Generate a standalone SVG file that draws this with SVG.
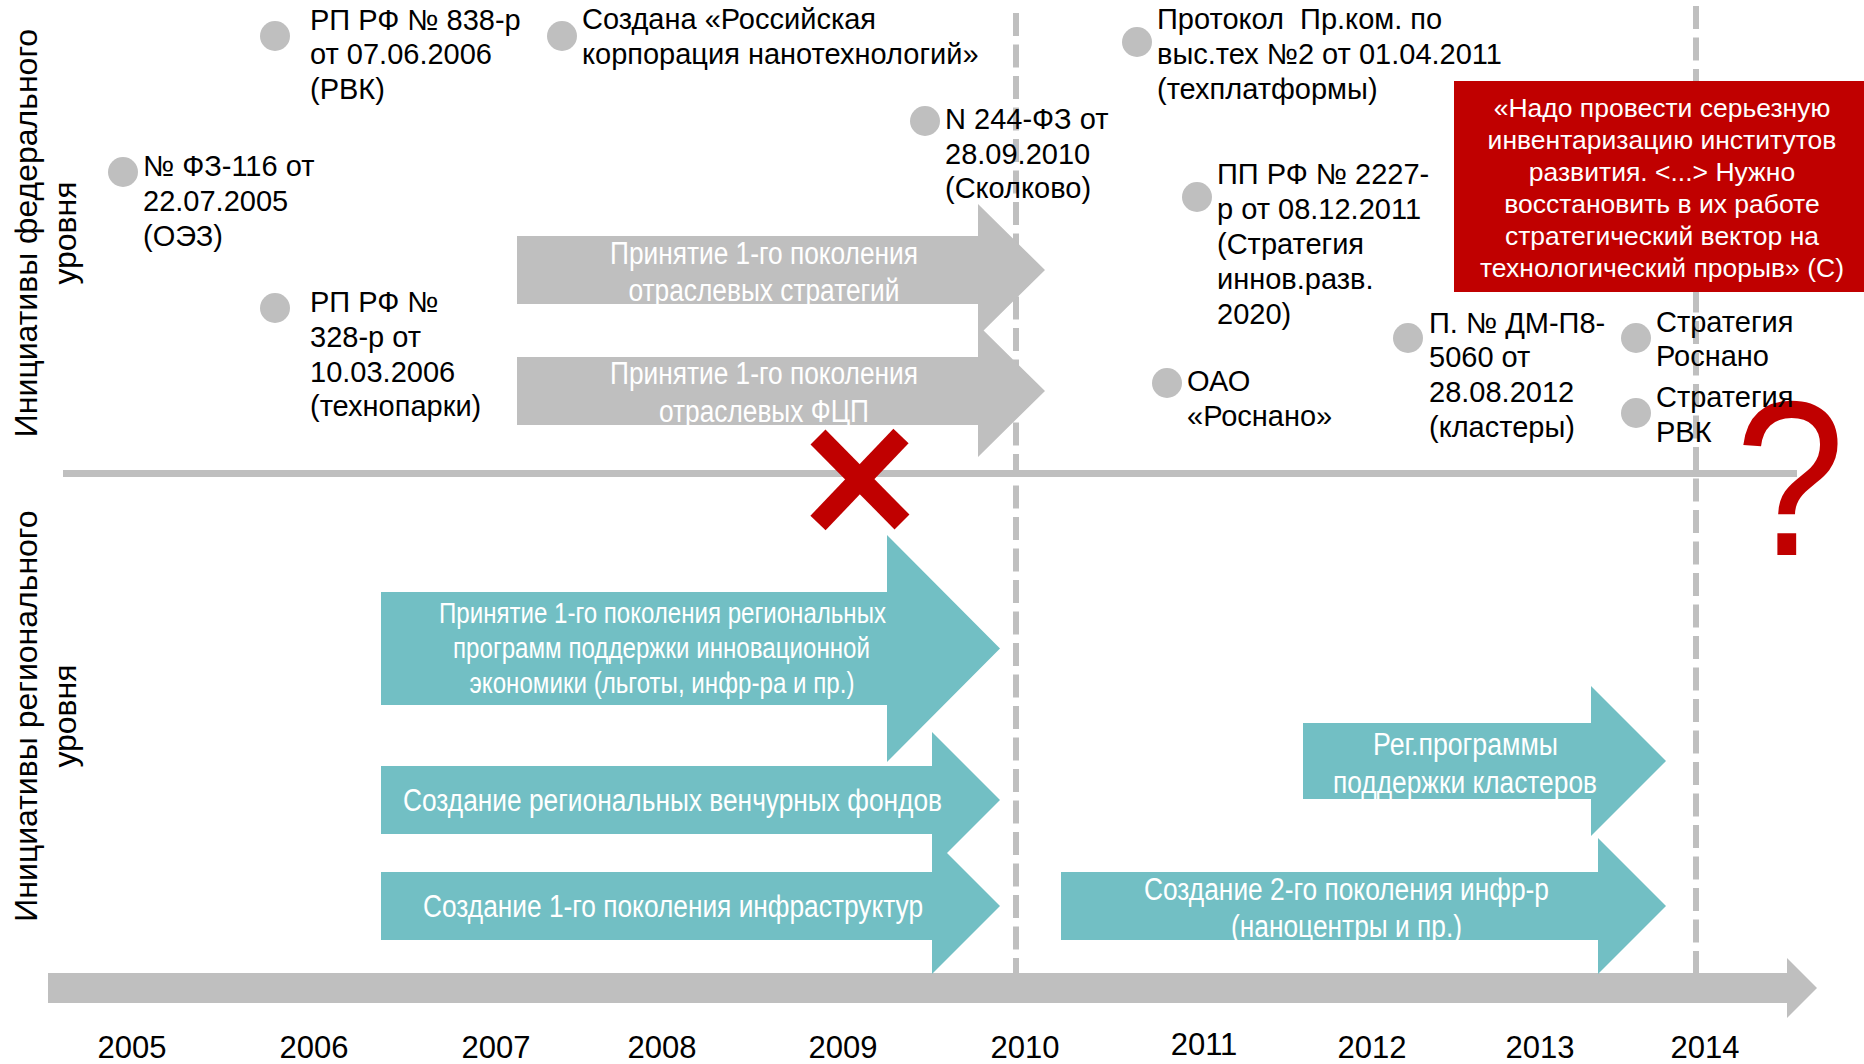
<svg xmlns="http://www.w3.org/2000/svg" width="1864" height="1064" viewBox="0 0 1864 1064">
<style>
.t{font-family:'Liberation Sans',Arial,sans-serif;font-size:29px;fill:#000}
.ax{font-family:'Liberation Sans',Arial,sans-serif;font-size:32px;fill:#000;text-anchor:middle}
.yr{font-family:'Liberation Sans',Arial,sans-serif;font-size:31px;fill:#000;text-anchor:middle}
.w{font-family:'Liberation Sans',Arial,sans-serif;font-size:31px;fill:#fff;text-anchor:middle}
.w29{font-size:29px}
.q{font-family:'Liberation Sans',Arial,sans-serif;font-size:26.5px;fill:#fff;text-anchor:middle}
.dot{fill:#bfbfbf}
.gray{fill:#bfbfbf}
.teal{fill:#72bfc4}
.dash{stroke:#bfbfbf;stroke-width:6;stroke-dasharray:23 8.5;fill:none}
.red{fill:#c00000}
</style>
<rect width="1864" height="1064" fill="#fff"/>

<g id="connectors">
  <line class="dash" x1="1016" y1="13" x2="1016" y2="973"/>
  <line class="dash" x1="1696" y1="6" x2="1696" y2="973"/>
  <line x1="63" y1="473.5" x2="1797" y2="473.5" stroke="#bfbfbf" stroke-width="7"/>
  <polygon id="timeline" class="gray" points="48,973 1787,973 1787,958 1817,988 1787,1018 1787,1003 48,1003"/>
</g>

<g id="axis-labels">
  <text class="ax" transform="translate(37,233) rotate(-90)">Инициативы федерального</text>
  <text class="ax" transform="translate(76,233) rotate(-90)">уровня</text>
  <text class="ax" transform="translate(37,716) rotate(-90)">Инициативы регионального</text>
  <text class="ax" transform="translate(76,716) rotate(-90)">уровня</text>
</g>

<g id="years">
  <text class="yr" x="132" y="1058">2005</text>
  <text class="yr" x="314" y="1058">2006</text>
  <text class="yr" x="496" y="1058">2007</text>
  <text class="yr" x="662" y="1058">2008</text>
  <text class="yr" x="843" y="1058">2009</text>
  <text class="yr" x="1025" y="1058">2010</text>
  <text class="yr" x="1204" y="1055">2011</text>
  <text class="yr" x="1372" y="1058">2012</text>
  <text class="yr" x="1540" y="1058">2013</text>
  <text class="yr" x="1705" y="1058">2014</text>
</g>

<g id="arrow-strategies">
  <polygon class="gray" points="517,236 978,236 978,204 1045,270 978,336 978,304 517,304"/>
  <text class="w"><tspan x="764" y="263.5" textLength="308" lengthAdjust="spacingAndGlyphs">Принятие 1-го поколения</tspan><tspan x="764" y="301" textLength="271" lengthAdjust="spacingAndGlyphs">отраслевых стратегий</tspan></text>
</g>
<g id="arrow-fcp">
  <polygon class="gray" points="517,357 978,357 978,325 1045,391 978,457 978,425 517,425"/>
  <text class="w"><tspan x="764" y="383.5" textLength="308" lengthAdjust="spacingAndGlyphs">Принятие 1-го поколения</tspan><tspan x="764" y="421.5" textLength="210" lengthAdjust="spacingAndGlyphs">отраслевых ФЦП</tspan></text>
</g>

<g id="arrow-regional-programs">
  <polygon class="teal" points="381,592 887,592 887,535 1000,648.5 887,762 887,705 381,705"/>
  <text class="w w29"><tspan x="662.5" y="623" textLength="447" lengthAdjust="spacingAndGlyphs">Принятие 1-го поколения региональных</tspan><tspan x="661.5" y="658" textLength="417" lengthAdjust="spacingAndGlyphs">программ поддержки инновационной</tspan><tspan x="662" y="693" textLength="385" lengthAdjust="spacingAndGlyphs">экономики (льготы, инфр-ра и пр.)</tspan></text>
</g>
<g id="arrow-venture">
  <polygon class="teal" points="381,766 932,766 932,732 1000,800 932,868 932,834 381,834"/>
  <text class="w" x="672.5" y="811" textLength="539" lengthAdjust="spacingAndGlyphs">Создание региональных венчурных фондов</text>
</g>
<g id="arrow-infra1">
  <polygon class="teal" points="381,872 932,872 932,838 1000,906 932,974 932,940 381,940"/>
  <text class="w" x="673" y="917" textLength="500" lengthAdjust="spacingAndGlyphs">Создание 1-го поколения инфраструктур</text>
</g>
<g id="arrow-clusters">
  <polygon class="teal" points="1303,723 1591,723 1591,686 1666,761 1591,836 1591,799 1303,799"/>
  <text class="w"><tspan x="1465.5" y="755" textLength="185" lengthAdjust="spacingAndGlyphs">Рег.программы</tspan><tspan x="1465" y="792.5" textLength="264" lengthAdjust="spacingAndGlyphs">поддержки кластеров</tspan></text>
</g>
<g id="arrow-infra2">
  <polygon class="teal" points="1061,872 1598,872 1598,838 1666,906 1598,974 1598,940 1061,940"/>
  <text class="w"><tspan x="1346.5" y="900" textLength="405" lengthAdjust="spacingAndGlyphs">Создание 2-го поколения инфр-р</tspan><tspan x="1346.5" y="937" textLength="231" lengthAdjust="spacingAndGlyphs">(наноцентры и пр.)</tspan></text>
</g>

<g id="cross">
  <line x1="818" y1="437" x2="902" y2="522" stroke="#c00000" stroke-width="21"/>
  <line x1="901" y1="436" x2="818" y2="523" stroke="#c00000" stroke-width="21"/>
</g>

<g id="question">
  <text transform="translate(1790,555) scale(0.93,1.04)" font-family="'Liberation Sans',Arial,sans-serif" font-size="212" fill="#c00000" text-anchor="middle">?</text>
</g>

<g id="quote">
  <rect class="red" x="1454" y="81" width="410" height="211"/>
  <text class="q"><tspan x="1662" y="117">«Надо провести серьезную</tspan><tspan x="1662" y="149">инвентаризацию институтов</tspan><tspan x="1662" y="181">развития. &lt;...&gt; Нужно</tspan><tspan x="1662" y="212.5">восстановить в их работе</tspan><tspan x="1662" y="244.5">стратегический вектор на</tspan><tspan x="1662" y="276.5">технологический прорыв» (С)</tspan></text>
</g>

<g id="ev-fz116">
  <circle class="dot" cx="123" cy="172" r="15"/>
  <text class="t"><tspan x="143" y="175.5">№ ФЗ-116 от</tspan><tspan x="143" y="210.5">22.07.2005</tspan><tspan x="143" y="245.5">(ОЭЗ)</tspan></text>
</g>
<g id="ev-rp838">
  <circle class="dot" cx="275" cy="36" r="15"/>
  <text class="t"><tspan x="310" y="29.5">РП РФ № 838-р</tspan><tspan x="310" y="64">от 07.06.2006</tspan><tspan x="310" y="98.5">(РВК)</tspan></text>
</g>
<g id="ev-rp328">
  <circle class="dot" cx="275" cy="308" r="15"/>
  <text class="t"><tspan x="310" y="311.5">РП РФ №</tspan><tspan x="310" y="346.5">328-р от</tspan><tspan x="310" y="381.5">10.03.2006</tspan><tspan x="310" y="416">(технопарки)</tspan></text>
</g>
<g id="ev-rusnano-corp">
  <circle class="dot" cx="562" cy="36" r="15"/>
  <text class="t"><tspan x="582" y="29">Создана «Российская</tspan><tspan x="582" y="64">корпорация нанотехнологий»</tspan></text>
</g>
<g id="ev-fz244">
  <circle class="dot" cx="925" cy="121" r="15"/>
  <text class="t"><tspan x="945" y="128.5">N 244-ФЗ от</tspan><tspan x="945" y="163.5">28.09.2010</tspan><tspan x="945" y="198">(Сколково)</tspan></text>
</g>
<g id="ev-protocol">
  <circle class="dot" cx="1137" cy="42" r="15"/>
  <text class="t"><tspan x="1157" y="29">Протокол&#160; Пр.ком. по</tspan><tspan x="1157" y="64">выс.тех №2 от 01.04.2011</tspan><tspan x="1157" y="99">(техплатформы)</tspan></text>
</g>
<g id="ev-pp2227">
  <circle class="dot" cx="1197" cy="197" r="15"/>
  <text class="t"><tspan x="1217" y="183.5">ПП РФ № 2227-</tspan><tspan x="1217" y="218.5">р от 08.12.2011</tspan><tspan x="1217" y="253.5">(Стратегия</tspan><tspan x="1217" y="288.5">иннов.разв.</tspan><tspan x="1217" y="323.5">2020)</tspan></text>
</g>
<g id="ev-oao">
  <circle class="dot" cx="1167" cy="383" r="15"/>
  <text class="t"><tspan x="1187" y="391">ОАО</tspan><tspan x="1187" y="426">«Роснано»</tspan></text>
</g>
<g id="ev-dm">
  <circle class="dot" cx="1408" cy="338" r="15"/>
  <text class="t"><tspan x="1429" y="332.5">П. № ДМ-П8-</tspan><tspan x="1429" y="367.3">5060 от</tspan><tspan x="1429" y="402.1">28.08.2012</tspan><tspan x="1429" y="436.9">(кластеры)</tspan></text>
</g>
<g id="ev-str-rosnano">
  <circle class="dot" cx="1636" cy="338" r="15"/>
  <text class="t"><tspan x="1656" y="331.5">Стратегия</tspan><tspan x="1656" y="366">Роснано</tspan></text>
</g>
<g id="ev-str-rvk">
  <circle class="dot" cx="1636" cy="413" r="15"/>
  <text class="t"><tspan x="1656" y="407">Стратегия</tspan><tspan x="1656" y="441.5">РВК</tspan></text>
</g>
</svg>
